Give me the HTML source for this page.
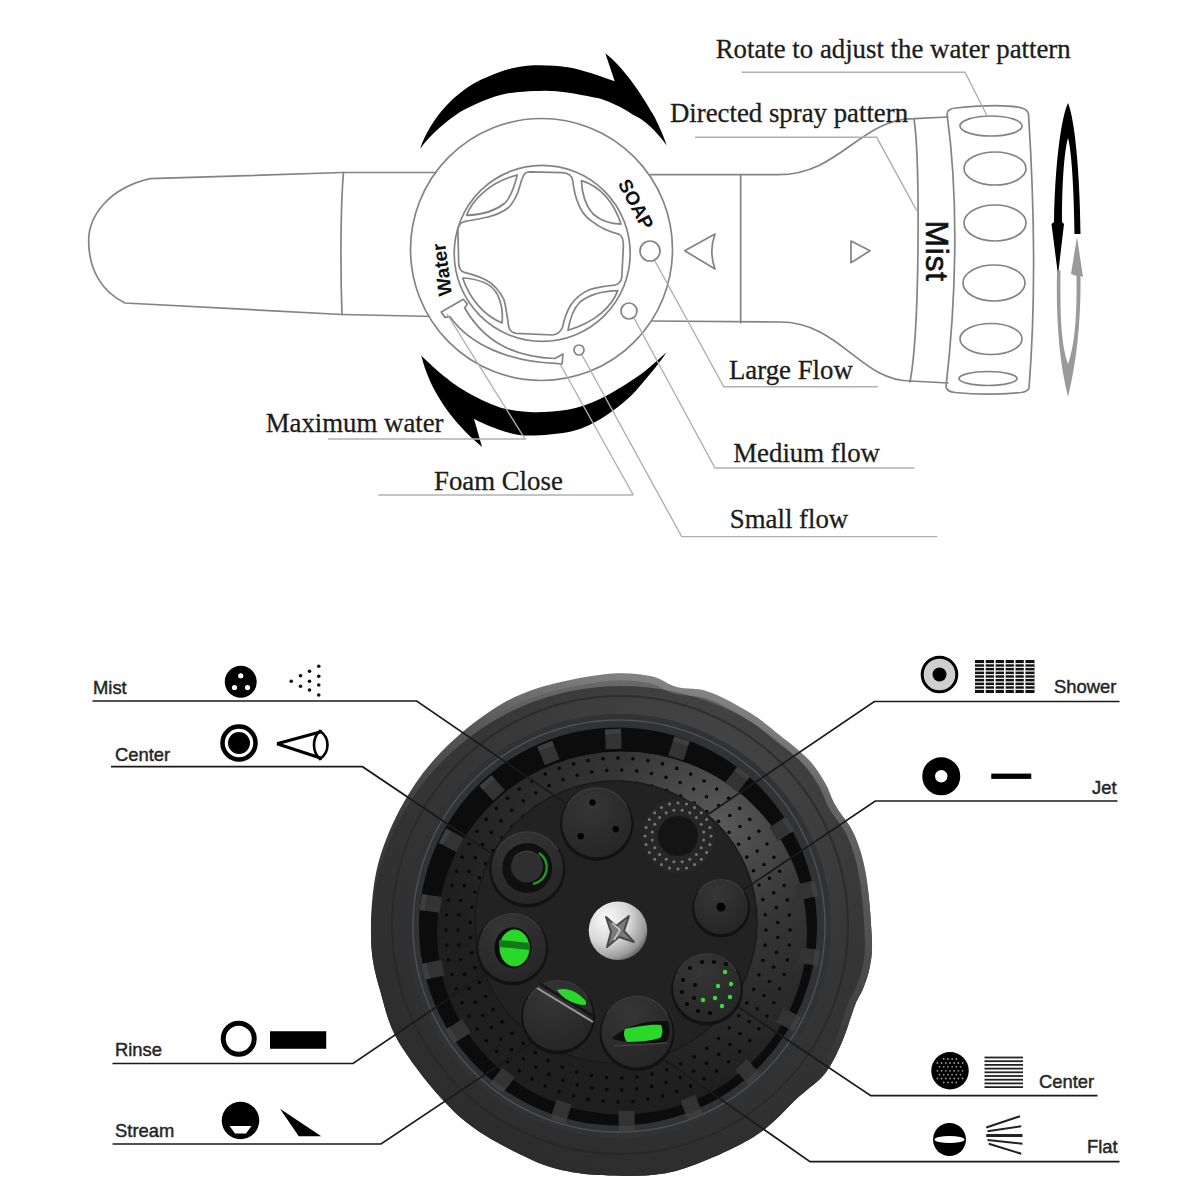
<!DOCTYPE html>
<html><head><meta charset="utf-8">
<style>
html,body{margin:0;padding:0;background:#fff;width:1200px;height:1200px;overflow:hidden}
svg{display:block}
</style></head><body>
<svg width="1200" height="1200" viewBox="0 0 1200 1200">
<rect width="1200" height="1200" fill="#fff"/>

<g fill="none" stroke="#838383" stroke-width="1.7" stroke-linejoin="round" stroke-linecap="round">
  <path d="M342.5,172.5 L150,178.7 C110,188 88,215 88.7,242 C89,270 102,292 125,303 L342,314.5"/>
  <path d="M343.5,172.5 C341,200 340,260 342,314.5"/>
  <path d="M342.5,172.5 L437,172.5"/>
  <path d="M342,314.5 L435,316.5"/>
  <path d="M650,174.7 L778,174.7 C840,174.7 860,118.7 914,118.7 L948,117"/>
  <path d="M650,321 L780,322 C840,322 860,381 911,381 L948,383"/>
  <path d="M740.7,174.7 L740.7,322.7"/>
  <path d="M914,118.7 C920,160 920,330 910,382"/>
  <path d="M684.7,250.7 L715,234 C711,245 711,258 715,269 Z"/>
  <path d="M851,241 L870,250.7 L851,262.7 Z"/>
  <circle cx="541.5" cy="249.5" r="131" fill="#fff"/>
  <circle cx="542.2" cy="253.4" r="88"/>
  <path d="M522.8,177.4 C524,173 526,172 530,171.9 L562,172.7 C568,173 572,176 572.7,180.6 C574,190 575,195 576.7,199.6 C580,210 586,218 592.5,221.7 C600,228 610,232 619.4,234.4 C622,236 623.4,240 623.4,245.5 L621.8,277.2 C621,282 618,284.5 614.7,285.1 C605,286 597,287 589.3,289.8 C580,294 574,300 570.3,305.7 C566,313 564,320 562.4,327.8 C560,332 557,334.5 552.9,335 L516.5,333.4 C512,333 509.5,330 508.6,326.2 C507,316 506,306 503.8,299.3 C499,290 493,284 486.4,280.3 C479,276 470,274 464.3,272.4 C460.5,271 458.8,267 458.7,262.9 L457.9,231.2 C458,226 461,222.5 464.3,221.7 C472,220 480,219 488,217 C496,215 503,212 508.6,207.5 C513,203 516,197 518.1,191.7 C520,186 521,181 522.8,177.4 Z"/>
  <path d="M466.6,215.4 C472,200 490,182 517.3,175 C514,188 510,198 505,203 C495,211 482,215 466.6,215.4 Z"/>
  <path d="M581.4,180.6 C600,186 614,202 621,224.1 C610,224 600,220 593,214 C586,206 582,195 581.4,180.6 Z"/>
  <path d="M617.8,290.6 C612,306 596,322 568,330.2 C570,318 574,308 580,302 C590,294 602,291 617.8,290.6 Z"/>
  <path d="M462.7,278 C480,279 492,284 497.5,294.6 C502,304 503,314 502.2,323 C485,316 470,300 462.7,278 Z"/>
  <path d="M463.3,299.3 L441.3,312 L444.7,317.3 L450,316.7 C470,345 510,362 555.3,363.3 L562,364 L563,354 L555,358.5 C515,357 485,343 464.7,308 L467.3,304 Z"/>
  <circle cx="650" cy="251" r="10"/>
  <circle cx="629" cy="311" r="8"/>
  <circle cx="579" cy="350" r="5"/>
  <path d="M947,114 C947,110 950,108.5 956,108 C985,105 1010,105 1022,108 C1026,109.5 1028,111 1028.5,114 C1034,200 1036,300 1029,388 C1028,391 1025,392 1021,392.5 C1000,394.5 975,394.5 955,392.5 C950,392 947,391 946,387 C956,300 959,200 947,114 Z"/>
  <ellipse cx="991" cy="126" rx="31" ry="10"/>
  <ellipse cx="995" cy="168.5" rx="31" ry="16.5"/>
  <ellipse cx="995" cy="223" rx="31" ry="18"/>
  <ellipse cx="994" cy="283" rx="31" ry="18"/>
  <ellipse cx="991" cy="339" rx="31" ry="15.5"/>
  <ellipse cx="988" cy="378.5" rx="29" ry="7"/>
</g>
<path fill="#000" d="M420,149 C430,120 455,90 486.7,77.3 C510,67 525,65 540,65.3 C560,65.5 575,68 582.7,70.7 C595,74 605,78 614.7,81.3 L605.3,53.3 C625,68 645,100 654.7,117.3 C660,128 664,137 666.7,145.3 C655,130 645,120 633,114.7 C615,103 600,98 593,97.3 C578,94 560,90.7 545,90.7 C530,91 515,92 508,93.3 C490,97 475,104 460,112 C445,122 430,135 420,149 Z"/>
<path fill="#000" d="M421.25,355.75 C430,390 450,420 482,446.9 L474,418.75 C485,425 495,428 500,430 C512,434 520,435.6 529,435.6 C545,435.5 555,434 567.5,432.25 C580,430 590,425 601,418.75 C615,410 625,402 635,391.75 C645,380 658,365 666.5,352.4 C655,362 645,372 635,378.25 C625,385 612,393 601,398.5 C590,404 578,408 567.5,409.75 C555,412 540,412.5 529,412 C518,411.5 508,409.5 500,407.5 C488,403 475,397 466.25,391.75 C455,385 450,381 443.75,376 C435,369 428,362 421.25,355.75 Z"/>
<g fill="none" stroke="#b0b0b0" stroke-width="1.4">
  <path d="M741.7,72.3 L965,72.3 L986.7,115"/>
  <path d="M695,137.3 L876.7,137.3 L916.7,210.7"/>
  <path d="M877.8,386.8 L723.8,386.8 L655,261"/>
  <path d="M914.5,468 L715,468 L634,318"/>
  <path d="M937.3,536.6 L681.7,536.6 L582,355"/>
  <path d="M633.3,495 L378.3,495"/>
  <path d="M633.3,495 L560,364"/>
  <path d="M328,439 L525,439 L447,314"/>
</g>
<g style="font-family:'Liberation Serif',serif;font-size:26.8px" fill="#1c1c1c" stroke="#1c1c1c" stroke-width="0.3">
  <text x="715.7" y="57.5">Rotate to adjust the water pattern</text>
  <text x="670.0" y="121.5">Directed spray pattern</text>
  <text x="729.0" y="378.5">Large Flow</text>
  <text x="733.3" y="461.5">Medium flow</text>
  <text x="729.8" y="528.3">Small flow</text>
  <text x="434.0" y="489.5">Foam Close</text>
  <text x="265.7" y="432.2">Maximum water</text>
</g>
<text transform="translate(452,295) rotate(-97.6)" style="font-family:'Liberation Sans',sans-serif;font-weight:bold;font-size:19.3px" fill="#111">Water</text>
<text transform="translate(617.5,183.5) rotate(62)" style="font-family:'Liberation Sans',sans-serif;font-weight:bold;font-size:19px" fill="#111">SOAP</text>
<text transform="translate(925.5,220.5) rotate(90)" style="font-family:'Liberation Sans',sans-serif;font-size:32px;letter-spacing:0.6px" fill="#111" stroke="#111" stroke-width="0.6">Mist</text>
<path fill="#000" d="M1068,103 C1061,118 1055,165 1054,222 L1051.5,224 L1058,275 L1064,224 L1062,222 C1062,180 1064.5,150 1068,138 C1071.5,150 1074,190 1074.5,234 L1080.5,234 C1080,175 1075,120 1068,103 Z"/>
<path fill="#9a9a9a" d="M1057,272 C1056,320 1059,360 1068,397 C1077,360 1081,320 1080.5,276 L1083,277 L1077,237 L1071,274 L1076.5,276 C1077,320 1074.5,345 1068,364 C1061.5,345 1060,320 1060.5,270 Z"/>

<defs>
<radialGradient id="gripg" cx="0.65" cy="0.2" r="0.9">
 <stop offset="0" stop-color="#474747"/><stop offset="0.5" stop-color="#363636"/><stop offset="1" stop-color="#2a2a2a"/>
</radialGradient>
<linearGradient id="edgeg" x1="0" y1="1" x2="1" y2="0">
 <stop offset="0" stop-color="#fff" stop-opacity="0"/><stop offset="0.55" stop-color="#fff" stop-opacity="0"/><stop offset="0.85" stop-color="#fff" stop-opacity="0.22"/><stop offset="1" stop-color="#fff" stop-opacity="0.3"/>
</linearGradient>
<radialGradient id="plateg" cx="0.75" cy="0.2" r="0.75">
 <stop offset="0" stop-color="#5a5a5a"/><stop offset="0.4" stop-color="#353535"/><stop offset="1" stop-color="#1e1e1e"/>
</radialGradient>
<radialGradient id="screwg" cx="0.3" cy="0.3" r="0.8">
 <stop offset="0" stop-color="#fafafa"/><stop offset="0.5" stop-color="#d8d8d8"/><stop offset="0.85" stop-color="#9a9a9a"/><stop offset="1" stop-color="#5a5a5a"/>
</radialGradient>
<radialGradient id="btng" cx="0.4" cy="0.25" r="0.85">
 <stop offset="0" stop-color="#363636"/><stop offset="1" stop-color="#242424"/>
</radialGradient>
<linearGradient id="lipg" x1="0" y1="0" x2="0" y2="1">
 <stop offset="0" stop-color="#6c6c6c"/><stop offset="0.12" stop-color="#555"/><stop offset="0.3" stop-color="#3a3a3a"/><stop offset="1" stop-color="#2e2e2e"/>
</linearGradient>
<clipPath id="gripclip"><path d="M376.5,870.7 C381.4,848.9 390.0,828.1 399.9,809.2 C409.9,790.3 421.7,773.3 436.0,757.4 C450.4,741.5 469.5,725.4 486.1,714.0 C502.6,702.6 515.3,695.6 535.1,689.0 C554.9,682.3 585.6,676.3 604.8,674.2 C624.0,672.1 638.4,674.0 650.3,676.1 C662.2,678.3 666.6,684.5 676.4,687.1 C686.2,689.7 696.8,687.6 709.1,691.9 C721.4,696.2 738.3,705.6 750.0,712.8 C761.7,719.9 769.7,727.2 779.4,734.9 C789.0,742.5 800.3,750.9 808.0,758.9 C815.6,766.9 820.5,775.2 825.1,782.9 C829.7,790.7 830.7,796.9 835.5,805.4 C840.3,813.9 848.9,822.3 854.0,833.9 C859.1,845.4 863.1,857.3 866.0,874.8 C869.0,892.3 871.3,923.6 871.9,939.0 C872.5,954.4 871.3,958.7 869.8,967.0 C868.3,975.3 865.5,982.4 863.0,988.8 C860.6,995.2 858.4,996.5 854.9,1005.4 C851.4,1014.3 846.9,1030.9 841.9,1042.2 C836.9,1053.5 832.1,1064.3 825.0,1073.4 C817.8,1082.5 808.6,1087.6 798.8,1096.8 C788.9,1105.9 776.8,1119.7 765.9,1128.2 C755.0,1136.7 745.2,1141.9 733.2,1148.0 C721.2,1154.1 705.8,1160.6 693.9,1164.9 C682.0,1169.2 673.1,1172.0 661.8,1173.8 C650.5,1175.6 639.8,1176.0 625.9,1175.9 C611.9,1175.7 594.2,1175.9 578.2,1173.1 C562.2,1170.2 549.5,1168.2 529.9,1158.9 C510.2,1149.5 481.7,1136.0 460.2,1117.2 C438.8,1098.4 414.6,1067.3 401.2,1046.1 C387.9,1024.9 385.1,1007.9 380.0,990.1 C375.0,972.4 371.7,959.8 371.1,939.9 C370.5,920.0 371.7,892.5 376.5,870.7 Z"/></clipPath>
</defs>
<path d="M376.5,870.7 C381.4,848.9 390.0,828.1 399.9,809.2 C409.9,790.3 421.7,773.3 436.0,757.4 C450.4,741.5 469.5,725.4 486.1,714.0 C502.6,702.6 515.3,695.6 535.1,689.0 C554.9,682.3 585.6,676.3 604.8,674.2 C624.0,672.1 638.4,674.0 650.3,676.1 C662.2,678.3 666.6,684.5 676.4,687.1 C686.2,689.7 696.8,687.6 709.1,691.9 C721.4,696.2 738.3,705.6 750.0,712.8 C761.7,719.9 769.7,727.2 779.4,734.9 C789.0,742.5 800.3,750.9 808.0,758.9 C815.6,766.9 820.5,775.2 825.1,782.9 C829.7,790.7 830.7,796.9 835.5,805.4 C840.3,813.9 848.9,822.3 854.0,833.9 C859.1,845.4 863.1,857.3 866.0,874.8 C869.0,892.3 871.3,923.6 871.9,939.0 C872.5,954.4 871.3,958.7 869.8,967.0 C868.3,975.3 865.5,982.4 863.0,988.8 C860.6,995.2 858.4,996.5 854.9,1005.4 C851.4,1014.3 846.9,1030.9 841.9,1042.2 C836.9,1053.5 832.1,1064.3 825.0,1073.4 C817.8,1082.5 808.6,1087.6 798.8,1096.8 C788.9,1105.9 776.8,1119.7 765.9,1128.2 C755.0,1136.7 745.2,1141.9 733.2,1148.0 C721.2,1154.1 705.8,1160.6 693.9,1164.9 C682.0,1169.2 673.1,1172.0 661.8,1173.8 C650.5,1175.6 639.8,1176.0 625.9,1175.9 C611.9,1175.7 594.2,1175.9 578.2,1173.1 C562.2,1170.2 549.5,1168.2 529.9,1158.9 C510.2,1149.5 481.7,1136.0 460.2,1117.2 C438.8,1098.4 414.6,1067.3 401.2,1046.1 C387.9,1024.9 385.1,1007.9 380.0,990.1 C375.0,972.4 371.7,959.8 371.1,939.9 C370.5,920.0 371.7,892.5 376.5,870.7 Z" fill="url(#lipg)"/>
<g clip-path="url(#gripclip)"><ellipse cx="621.5" cy="937" rx="251" ry="251" fill="url(#gripg)"/></g>
<path d="M376.5,870.7 C381.4,848.9 390.0,828.1 399.9,809.2 C409.9,790.3 421.7,773.3 436.0,757.4 C450.4,741.5 469.5,725.4 486.1,714.0 C502.6,702.6 515.3,695.6 535.1,689.0 C554.9,682.3 585.6,676.3 604.8,674.2 C624.0,672.1 638.4,674.0 650.3,676.1 C662.2,678.3 666.6,684.5 676.4,687.1 C686.2,689.7 696.8,687.6 709.1,691.9 C721.4,696.2 738.3,705.6 750.0,712.8 C761.7,719.9 769.7,727.2 779.4,734.9 C789.0,742.5 800.3,750.9 808.0,758.9 C815.6,766.9 820.5,775.2 825.1,782.9 C829.7,790.7 830.7,796.9 835.5,805.4 C840.3,813.9 848.9,822.3 854.0,833.9 C859.1,845.4 863.1,857.3 866.0,874.8 C869.0,892.3 871.3,923.6 871.9,939.0 C872.5,954.4 871.3,958.7 869.8,967.0 C868.3,975.3 865.5,982.4 863.0,988.8 C860.6,995.2 858.4,996.5 854.9,1005.4 C851.4,1014.3 846.9,1030.9 841.9,1042.2 C836.9,1053.5 832.1,1064.3 825.0,1073.4 C817.8,1082.5 808.6,1087.6 798.8,1096.8 C788.9,1105.9 776.8,1119.7 765.9,1128.2 C755.0,1136.7 745.2,1141.9 733.2,1148.0 C721.2,1154.1 705.8,1160.6 693.9,1164.9 C682.0,1169.2 673.1,1172.0 661.8,1173.8 C650.5,1175.6 639.8,1176.0 625.9,1175.9 C611.9,1175.7 594.2,1175.9 578.2,1173.1 C562.2,1170.2 549.5,1168.2 529.9,1158.9 C510.2,1149.5 481.7,1136.0 460.2,1117.2 C438.8,1098.4 414.6,1067.3 401.2,1046.1 C387.9,1024.9 385.1,1007.9 380.0,990.1 C375.0,972.4 371.7,959.8 371.1,939.9 C370.5,920.0 371.7,892.5 376.5,870.7 Z" fill="none" stroke="url(#edgeg)" stroke-width="14" clip-path="url(#gripclip)"/>
<ellipse cx="620" cy="925" rx="228" ry="229" fill="none" stroke="#262626" stroke-width="2" opacity="0.7"/>
<ellipse cx="619" cy="926" rx="212" ry="212" fill="#313234"/>
<ellipse cx="619" cy="926" rx="206" ry="206" fill="none" stroke="#505154" stroke-width="1.4"/>
<ellipse cx="618" cy="926.5" rx="199" ry="199" fill="#0c0c0c"/>
<ellipse cx="622" cy="933" rx="185" ry="181.5" fill="url(#plateg)"/>
<g transform="translate(613.3,738.1) rotate(-2.0)"><rect x="-8" y="-9" width="16" height="20" fill="#333"/><rect x="-8" y="-9" width="16" height="5" fill="#3e3e3e"/></g>
<g transform="translate(679.3,747.4) rotate(18.0)"><rect x="-8" y="-9" width="16" height="20" fill="#333"/><rect x="-8" y="-9" width="16" height="5" fill="#3e3e3e"/></g>
<g transform="translate(738.2,778.7) rotate(38.0)"><rect x="-8" y="-9" width="16" height="20" fill="#333"/><rect x="-8" y="-9" width="16" height="5" fill="#3e3e3e"/></g>
<g transform="translate(782.8,828.3) rotate(58.0)"><rect x="-8" y="-9" width="16" height="20" fill="#333"/><rect x="-8" y="-9" width="16" height="5" fill="#3e3e3e"/></g>
<g transform="translate(807.8,890.1) rotate(78.0)"><rect x="-8" y="-9" width="16" height="20" fill="#333"/><rect x="-8" y="-9" width="16" height="5" fill="#3e3e3e"/></g>
<g transform="translate(810.1,956.7) rotate(98.0)"><rect x="-8" y="-9" width="16" height="20" fill="#333"/><rect x="-8" y="-9" width="16" height="5" fill="#3e3e3e"/></g>
<g transform="translate(789.5,1020.1) rotate(118.0)"><rect x="-8" y="-9" width="16" height="20" fill="#333"/><rect x="-8" y="-9" width="16" height="5" fill="#3e3e3e"/></g>
<g transform="translate(748.5,1072.7) rotate(138.0)"><rect x="-8" y="-9" width="16" height="20" fill="#333"/><rect x="-8" y="-9" width="16" height="5" fill="#3e3e3e"/></g>
<g transform="translate(691.9,1108.0) rotate(158.0)"><rect x="-8" y="-9" width="16" height="20" fill="#333"/><rect x="-8" y="-9" width="16" height="5" fill="#3e3e3e"/></g>
<g transform="translate(626.7,1121.9) rotate(178.0)"><rect x="-8" y="-9" width="16" height="20" fill="#333"/><rect x="-8" y="-9" width="16" height="5" fill="#3e3e3e"/></g>
<g transform="translate(560.7,1112.6) rotate(198.0)"><rect x="-8" y="-9" width="16" height="20" fill="#333"/><rect x="-8" y="-9" width="16" height="5" fill="#3e3e3e"/></g>
<g transform="translate(501.8,1081.3) rotate(218.0)"><rect x="-8" y="-9" width="16" height="20" fill="#333"/><rect x="-8" y="-9" width="16" height="5" fill="#3e3e3e"/></g>
<g transform="translate(457.2,1031.7) rotate(238.0)"><rect x="-8" y="-9" width="16" height="20" fill="#333"/><rect x="-8" y="-9" width="16" height="5" fill="#3e3e3e"/></g>
<g transform="translate(432.2,969.9) rotate(258.0)"><rect x="-8" y="-9" width="16" height="20" fill="#333"/><rect x="-8" y="-9" width="16" height="5" fill="#3e3e3e"/></g>
<g transform="translate(429.9,903.3) rotate(278.0)"><rect x="-8" y="-9" width="16" height="20" fill="#333"/><rect x="-8" y="-9" width="16" height="5" fill="#3e3e3e"/></g>
<g transform="translate(450.5,839.9) rotate(298.0)"><rect x="-8" y="-9" width="16" height="20" fill="#333"/><rect x="-8" y="-9" width="16" height="5" fill="#3e3e3e"/></g>
<g transform="translate(491.5,787.3) rotate(318.0)"><rect x="-8" y="-9" width="16" height="20" fill="#333"/><rect x="-8" y="-9" width="16" height="5" fill="#3e3e3e"/></g>
<g transform="translate(548.1,752.0) rotate(338.0)"><rect x="-8" y="-9" width="16" height="20" fill="#333"/><rect x="-8" y="-9" width="16" height="5" fill="#3e3e3e"/></g>
<g fill="#080808"><circle cx="766.0" cy="930.0" r="1.8"/><circle cx="765.2" cy="945.2" r="1.8"/><circle cx="762.9" cy="960.3" r="1.8"/><circle cx="759.0" cy="975.0" r="1.8"/><circle cx="753.6" cy="989.3" r="1.8"/><circle cx="746.8" cy="1002.9" r="1.8"/><circle cx="738.6" cy="1015.8" r="1.8"/><circle cx="729.2" cy="1027.7" r="1.8"/><circle cx="718.5" cy="1038.6" r="1.8"/><circle cx="706.8" cy="1048.4" r="1.8"/><circle cx="694.2" cy="1056.9" r="1.8"/><circle cx="680.7" cy="1064.0" r="1.8"/><circle cx="666.6" cy="1069.8" r="1.8"/><circle cx="652.0" cy="1074.0" r="1.8"/><circle cx="637.0" cy="1076.8" r="1.8"/><circle cx="621.8" cy="1078.0" r="1.8"/><circle cx="606.6" cy="1077.6" r="1.8"/><circle cx="591.5" cy="1075.6" r="1.8"/><circle cx="576.6" cy="1072.1" r="1.8"/><circle cx="562.2" cy="1067.1" r="1.8"/><circle cx="548.4" cy="1060.6" r="1.8"/><circle cx="535.4" cy="1052.8" r="1.8"/><circle cx="523.2" cy="1043.6" r="1.8"/><circle cx="512.0" cy="1033.3" r="1.8"/><circle cx="502.0" cy="1021.9" r="1.8"/><circle cx="493.1" cy="1009.4" r="1.8"/><circle cx="485.6" cy="996.2" r="1.8"/><circle cx="479.5" cy="982.2" r="1.8"/><circle cx="474.9" cy="967.7" r="1.8"/><circle cx="471.8" cy="952.8" r="1.8"/><circle cx="470.2" cy="937.6" r="1.8"/><circle cx="470.2" cy="922.4" r="1.8"/><circle cx="471.8" cy="907.2" r="1.8"/><circle cx="474.9" cy="892.3" r="1.8"/><circle cx="479.5" cy="877.8" r="1.8"/><circle cx="485.6" cy="863.8" r="1.8"/><circle cx="493.1" cy="850.6" r="1.8"/><circle cx="502.0" cy="838.1" r="1.8"/><circle cx="512.0" cy="826.7" r="1.8"/><circle cx="523.2" cy="816.4" r="1.8"/><circle cx="535.4" cy="807.2" r="1.8"/><circle cx="548.4" cy="799.4" r="1.8"/><circle cx="562.2" cy="792.9" r="1.8"/><circle cx="576.6" cy="787.9" r="1.8"/><circle cx="591.5" cy="784.4" r="1.8"/><circle cx="606.6" cy="782.4" r="1.8"/><circle cx="621.8" cy="782.0" r="1.8"/><circle cx="637.0" cy="783.2" r="1.8"/><circle cx="652.0" cy="786.0" r="1.8"/><circle cx="666.6" cy="790.2" r="1.8"/><circle cx="680.7" cy="796.0" r="1.8"/><circle cx="694.2" cy="803.1" r="1.8"/><circle cx="706.8" cy="811.6" r="1.8"/><circle cx="718.5" cy="821.4" r="1.8"/><circle cx="729.2" cy="832.3" r="1.8"/><circle cx="738.6" cy="844.2" r="1.8"/><circle cx="746.8" cy="857.1" r="1.8"/><circle cx="753.6" cy="870.7" r="1.8"/><circle cx="759.0" cy="885.0" r="1.8"/><circle cx="762.9" cy="899.7" r="1.8"/><circle cx="765.2" cy="914.8" r="1.8"/><circle cx="777.8" cy="937.5" r="1.8"/><circle cx="776.4" cy="952.4" r="1.8"/><circle cx="773.6" cy="967.2" r="1.8"/><circle cx="769.5" cy="981.6" r="1.8"/><circle cx="764.0" cy="995.5" r="1.8"/><circle cx="757.2" cy="1008.9" r="1.8"/><circle cx="749.2" cy="1021.6" r="1.8"/><circle cx="740.0" cy="1033.5" r="1.8"/><circle cx="729.8" cy="1044.5" r="1.8"/><circle cx="718.6" cy="1054.4" r="1.8"/><circle cx="706.5" cy="1063.3" r="1.8"/><circle cx="693.6" cy="1071.0" r="1.8"/><circle cx="680.1" cy="1077.5" r="1.8"/><circle cx="666.0" cy="1082.6" r="1.8"/><circle cx="651.5" cy="1086.5" r="1.8"/><circle cx="636.7" cy="1088.9" r="1.8"/><circle cx="621.8" cy="1090.0" r="1.8"/><circle cx="606.8" cy="1089.6" r="1.8"/><circle cx="591.9" cy="1087.9" r="1.8"/><circle cx="577.2" cy="1084.7" r="1.8"/><circle cx="562.9" cy="1080.2" r="1.8"/><circle cx="549.1" cy="1074.4" r="1.8"/><circle cx="535.8" cy="1067.3" r="1.8"/><circle cx="523.3" cy="1059.0" r="1.8"/><circle cx="511.7" cy="1049.6" r="1.8"/><circle cx="501.0" cy="1039.1" r="1.8"/><circle cx="491.3" cy="1027.6" r="1.8"/><circle cx="482.7" cy="1015.4" r="1.8"/><circle cx="475.3" cy="1002.3" r="1.8"/><circle cx="469.1" cy="988.6" r="1.8"/><circle cx="464.3" cy="974.4" r="1.8"/><circle cx="460.8" cy="959.8" r="1.8"/><circle cx="458.7" cy="945.0" r="1.8"/><circle cx="458.0" cy="930.0" r="1.8"/><circle cx="458.7" cy="915.0" r="1.8"/><circle cx="460.8" cy="900.2" r="1.8"/><circle cx="464.3" cy="885.6" r="1.8"/><circle cx="469.1" cy="871.4" r="1.8"/><circle cx="475.3" cy="857.7" r="1.8"/><circle cx="482.7" cy="844.6" r="1.8"/><circle cx="491.3" cy="832.4" r="1.8"/><circle cx="501.0" cy="820.9" r="1.8"/><circle cx="511.7" cy="810.4" r="1.8"/><circle cx="523.3" cy="801.0" r="1.8"/><circle cx="535.8" cy="792.7" r="1.8"/><circle cx="549.1" cy="785.6" r="1.8"/><circle cx="562.9" cy="779.8" r="1.8"/><circle cx="577.2" cy="775.3" r="1.8"/><circle cx="591.9" cy="772.1" r="1.8"/><circle cx="606.8" cy="770.4" r="1.8"/><circle cx="621.8" cy="770.0" r="1.8"/><circle cx="636.7" cy="771.1" r="1.8"/><circle cx="651.5" cy="773.5" r="1.8"/><circle cx="666.0" cy="777.4" r="1.8"/><circle cx="680.1" cy="782.5" r="1.8"/><circle cx="693.6" cy="789.0" r="1.8"/><circle cx="706.5" cy="796.7" r="1.8"/><circle cx="718.6" cy="805.6" r="1.8"/><circle cx="729.8" cy="815.5" r="1.8"/><circle cx="740.0" cy="826.5" r="1.8"/><circle cx="749.2" cy="838.4" r="1.8"/><circle cx="757.2" cy="851.1" r="1.8"/><circle cx="764.0" cy="864.5" r="1.8"/><circle cx="769.5" cy="878.4" r="1.8"/><circle cx="773.6" cy="892.8" r="1.8"/><circle cx="776.4" cy="907.6" r="1.8"/><circle cx="777.8" cy="922.5" r="1.8"/><circle cx="790.0" cy="930.0" r="1.8"/><circle cx="789.3" cy="945.0" r="1.8"/><circle cx="787.4" cy="959.9" r="1.8"/><circle cx="784.1" cy="974.5" r="1.8"/><circle cx="779.6" cy="988.8" r="1.8"/><circle cx="773.9" cy="1002.7" r="1.8"/><circle cx="767.0" cy="1016.0" r="1.8"/><circle cx="758.9" cy="1028.7" r="1.8"/><circle cx="749.8" cy="1040.6" r="1.8"/><circle cx="739.6" cy="1051.6" r="1.8"/><circle cx="728.6" cy="1061.8" r="1.8"/><circle cx="716.7" cy="1070.9" r="1.8"/><circle cx="704.0" cy="1079.0" r="1.8"/><circle cx="690.7" cy="1085.9" r="1.8"/><circle cx="676.8" cy="1091.6" r="1.8"/><circle cx="662.5" cy="1096.1" r="1.8"/><circle cx="647.9" cy="1099.4" r="1.8"/><circle cx="633.0" cy="1101.3" r="1.8"/><circle cx="618.0" cy="1102.0" r="1.8"/><circle cx="603.0" cy="1101.3" r="1.8"/><circle cx="588.1" cy="1099.4" r="1.8"/><circle cx="573.5" cy="1096.1" r="1.8"/><circle cx="559.2" cy="1091.6" r="1.8"/><circle cx="545.3" cy="1085.9" r="1.8"/><circle cx="532.0" cy="1079.0" r="1.8"/><circle cx="519.3" cy="1070.9" r="1.8"/><circle cx="507.4" cy="1061.8" r="1.8"/><circle cx="496.4" cy="1051.6" r="1.8"/><circle cx="486.2" cy="1040.6" r="1.8"/><circle cx="477.1" cy="1028.7" r="1.8"/><circle cx="469.0" cy="1016.0" r="1.8"/><circle cx="462.1" cy="1002.7" r="1.8"/><circle cx="456.4" cy="988.8" r="1.8"/><circle cx="451.9" cy="974.5" r="1.8"/><circle cx="448.6" cy="959.9" r="1.8"/><circle cx="446.7" cy="945.0" r="1.8"/><circle cx="446.0" cy="930.0" r="1.8"/><circle cx="446.7" cy="915.0" r="1.8"/><circle cx="448.6" cy="900.1" r="1.8"/><circle cx="451.9" cy="885.5" r="1.8"/><circle cx="456.4" cy="871.2" r="1.8"/><circle cx="462.1" cy="857.3" r="1.8"/><circle cx="469.0" cy="844.0" r="1.8"/><circle cx="477.1" cy="831.3" r="1.8"/><circle cx="486.2" cy="819.4" r="1.8"/><circle cx="496.4" cy="808.4" r="1.8"/><circle cx="507.4" cy="798.2" r="1.8"/><circle cx="519.3" cy="789.1" r="1.8"/><circle cx="532.0" cy="781.0" r="1.8"/><circle cx="545.3" cy="774.1" r="1.8"/><circle cx="559.2" cy="768.4" r="1.8"/><circle cx="573.5" cy="763.9" r="1.8"/><circle cx="588.1" cy="760.6" r="1.8"/><circle cx="603.0" cy="758.7" r="1.8"/><circle cx="618.0" cy="758.0" r="1.8"/><circle cx="633.0" cy="758.7" r="1.8"/><circle cx="647.9" cy="760.6" r="1.8"/><circle cx="662.5" cy="763.9" r="1.8"/><circle cx="676.8" cy="768.4" r="1.8"/><circle cx="690.7" cy="774.1" r="1.8"/><circle cx="704.0" cy="781.0" r="1.8"/><circle cx="716.7" cy="789.1" r="1.8"/><circle cx="728.6" cy="798.2" r="1.8"/><circle cx="739.6" cy="808.4" r="1.8"/><circle cx="749.8" cy="819.4" r="1.8"/><circle cx="758.9" cy="831.3" r="1.8"/><circle cx="767.0" cy="844.0" r="1.8"/><circle cx="773.9" cy="857.3" r="1.8"/><circle cx="779.6" cy="871.2" r="1.8"/><circle cx="784.1" cy="885.5" r="1.8"/><circle cx="787.4" cy="900.1" r="1.8"/><circle cx="789.3" cy="915.0" r="1.8"/></g>
<circle cx="616" cy="922" r="141" fill="#222"/>
<circle cx="616" cy="922" r="141" fill="none" stroke="#1a1a1a" stroke-width="1.5"/>
<circle cx="596.7" cy="824.2" r="36.7" fill="#121212"/>
<circle cx="596.7" cy="822.7" r="34.7" fill="url(#btng)"/>
<path d="M567.2,805.4 A33.7,33.7 0 0,1 626.2,805.4" fill="none" stroke="#3c3c3c" stroke-width="1.3"/>
<circle cx="592.5" cy="802.5" r="3.2" fill="#050505"/>
<circle cx="580.8" cy="836.3" r="3.2" fill="#050505"/>
<circle cx="615.8" cy="829.2" r="3.2" fill="#050505"/>
<circle cx="678" cy="836" r="37" fill="#262626"/>
<g fill="#777"><circle cx="711.0" cy="836.0" r="1.5"/><circle cx="709.9" cy="844.5" r="1.5"/><circle cx="706.6" cy="852.5" r="1.5"/><circle cx="701.3" cy="859.3" r="1.5"/><circle cx="694.5" cy="864.6" r="1.5"/><circle cx="686.5" cy="867.9" r="1.5"/><circle cx="678.0" cy="869.0" r="1.5"/><circle cx="669.5" cy="867.9" r="1.5"/><circle cx="661.5" cy="864.6" r="1.5"/><circle cx="654.7" cy="859.3" r="1.5"/><circle cx="649.4" cy="852.5" r="1.5"/><circle cx="646.1" cy="844.5" r="1.5"/><circle cx="645.0" cy="836.0" r="1.5"/><circle cx="646.1" cy="827.5" r="1.5"/><circle cx="649.4" cy="819.5" r="1.5"/><circle cx="654.7" cy="812.7" r="1.5"/><circle cx="661.5" cy="807.4" r="1.5"/><circle cx="669.5" cy="804.1" r="1.5"/><circle cx="678.0" cy="803.0" r="1.5"/><circle cx="686.5" cy="804.1" r="1.5"/><circle cx="694.5" cy="807.4" r="1.5"/><circle cx="701.3" cy="812.7" r="1.5"/><circle cx="706.6" cy="819.5" r="1.5"/><circle cx="709.9" cy="827.5" r="1.5"/><circle cx="703.7" cy="840.1" r="1.5"/><circle cx="701.2" cy="847.8" r="1.5"/><circle cx="696.4" cy="854.4" r="1.5"/><circle cx="689.8" cy="859.2" r="1.5"/><circle cx="682.1" cy="861.7" r="1.5"/><circle cx="673.9" cy="861.7" r="1.5"/><circle cx="666.2" cy="859.2" r="1.5"/><circle cx="659.6" cy="854.4" r="1.5"/><circle cx="654.8" cy="847.8" r="1.5"/><circle cx="652.3" cy="840.1" r="1.5"/><circle cx="652.3" cy="831.9" r="1.5"/><circle cx="654.8" cy="824.2" r="1.5"/><circle cx="659.6" cy="817.6" r="1.5"/><circle cx="666.2" cy="812.8" r="1.5"/><circle cx="673.9" cy="810.3" r="1.5"/><circle cx="682.1" cy="810.3" r="1.5"/><circle cx="689.8" cy="812.8" r="1.5"/><circle cx="696.4" cy="817.6" r="1.5"/><circle cx="701.2" cy="824.2" r="1.5"/><circle cx="703.7" cy="831.9" r="1.5"/></g>
<circle cx="678" cy="836" r="20" fill="#141414"/>
<circle cx="527.3" cy="869.5" r="38" fill="#121212"/>
<circle cx="527.3" cy="868" r="36" fill="url(#btng)"/>
<path d="M496.7,850.0 A35,35 0 0,1 557.9,850.0" fill="none" stroke="#3c3c3c" stroke-width="1.3"/>
<circle cx="527.3" cy="868" r="25" fill="#101010"/>
<path d="M539,853 A17,17 0 0,1 533,884" fill="none" stroke="#1c9a2a" stroke-width="2.5"/>
<circle cx="527" cy="866.5" r="16" fill="#2f2f2f"/>
<path d="M514,858 A16,16 0 0,1 540,858" fill="none" stroke="#3c3c3c" stroke-width="1.3"/>
<circle cx="721" cy="908.5" r="29" fill="#121212"/>
<circle cx="721" cy="907" r="27" fill="url(#btng)"/>
<path d="M698.0,893.5 A26,26 0 0,1 744.0,893.5" fill="none" stroke="#3c3c3c" stroke-width="1.3"/>
<circle cx="721" cy="907" r="4.5" fill="#050505"/>
<circle cx="618" cy="930.7" r="29.3" fill="url(#screwg)"/>
<path d="M606,917 L616,926 L629,916 L624,931 L634,942 L619,937 L607,947 L611,932 Z" fill="#7a7a7a" stroke="#4a4a4a" stroke-width="2" stroke-linejoin="round"/>
<path d="M612,923 L620,930 L614,940" fill="none" stroke="#cfcfcf" stroke-width="1.5"/>
<circle cx="512.2" cy="949.3" r="36" fill="#121212"/>
<circle cx="512.2" cy="947.8" r="34" fill="url(#btng)"/>
<path d="M483.3,930.8 A33,33 0 0,1 541.1,930.8" fill="none" stroke="#3c3c3c" stroke-width="1.3"/>
<ellipse cx="513" cy="947.8" rx="18.5" ry="20.5" fill="#0c0c0c"/>
<ellipse cx="514.5" cy="948" rx="15" ry="18.5" fill="#2ad82a"/>
<path d="M499,940 L530,943 L530,950 L499,947 Z" fill="#127a18"/>
<circle cx="707" cy="989.5" r="36" fill="#121212"/>
<circle cx="707" cy="988" r="34" fill="url(#btng)"/>
<path d="M678.1,971.0 A33,33 0 0,1 735.9,971.0" fill="none" stroke="#3c3c3c" stroke-width="1.3"/>
<circle cx="690" cy="968" r="2" fill="#050505"/>
<circle cx="702" cy="962" r="2" fill="#050505"/>
<circle cx="714" cy="962" r="2" fill="#050505"/>
<circle cx="683" cy="980" r="2" fill="#050505"/>
<circle cx="682" cy="992" r="2" fill="#050505"/>
<circle cx="687" cy="1004" r="2" fill="#050505"/>
<circle cx="698" cy="1011" r="2" fill="#050505"/>
<circle cx="710" cy="1013" r="2" fill="#050505"/>
<circle cx="726" cy="964" r="2" fill="#050505"/>
<circle cx="695" cy="985" r="2" fill="#050505"/>
<circle cx="694" cy="998" r="2" fill="#050505"/>
<circle cx="718" cy="986" r="2.2" fill="#33dd3a"/>
<circle cx="731" cy="984" r="2.2" fill="#33dd3a"/>
<circle cx="703" cy="1000" r="2.2" fill="#33dd3a"/>
<circle cx="715" cy="998" r="2.2" fill="#33dd3a"/>
<circle cx="730" cy="997" r="2.2" fill="#33dd3a"/>
<circle cx="722" cy="1006" r="2.2" fill="#33dd3a"/>
<circle cx="725" cy="972" r="2.2" fill="#33dd3a"/>
<circle cx="558" cy="1017.2" r="37" fill="#121212"/>
<circle cx="558" cy="1015.7" r="35" fill="url(#btng)"/>
<path d="M528.2,998.2 A34,34 0 0,1 587.8,998.2" fill="none" stroke="#3c3c3c" stroke-width="1.3"/>
<path d="M537,988 L593,1022" stroke="#9a9a9a" stroke-width="2"/>
<path d="M540,984 L596,1018" stroke="#151515" stroke-width="3"/>
<path d="M557,990 C565,987 576,990 585,1000 C587,1003 586,1005 584,1005 C573,1004 563,999 557,990 Z" fill="#2ad82a"/>
<circle cx="637" cy="1033.5" r="37.5" fill="#121212"/>
<circle cx="637" cy="1032" r="35.5" fill="url(#btng)"/>
<path d="M606.8,1014.2 A34.5,34.5 0 0,1 667.2,1014.2" fill="none" stroke="#3c3c3c" stroke-width="1.3"/>
<path d="M612,1038 C625,1026 645,1020 668,1021 C670,1028 670,1036 667,1041 C648,1045 628,1045 612,1038 Z" fill="#0e0e0e"/>
<path d="M625,1029 C640,1026 652,1024 661,1025 C663,1029 663,1035 660,1038 C650,1041 638,1042 627,1042 C624,1038 623,1033 625,1029 Z" fill="#2ad82a"/>
<path d="M614,1046 L667,1043" stroke="#4a4a4a" stroke-width="1.2"/>

<g fill="none" stroke="#1a1a1a" stroke-width="1.7">
  <path d="M92.5,701 L416.7,701 L566.7,804"/>
  <path d="M111,766.7 L362.5,766.7 L493.75,855"/>
  <path d="M112.5,1063.5 L353,1063.5 L484,974.7"/>
  <path d="M112.5,1144 L381,1144 L530.7,1044"/>
  <path d="M1119.5,701.5 L874.3,701.5 L707.5,814.75"/>
  <path d="M1117.5,801 L875.25,801 L743.25,890"/>
  <path d="M1097.5,1095.7 L870.75,1095.7 L738.6,1007.2"/>
  <path d="M1119.5,1161.7 L810,1161.7 L665,1060.3"/>
</g>
<g style="font-family:'Liberation Sans',sans-serif;font-size:18.4px" fill="#262626" stroke="#262626" stroke-width="0.45">
  <text x="93" y="693.5">Mist</text>
  <text x="115" y="760.5">Center</text>
  <text x="115" y="1056.0">Rinse</text>
  <text x="115" y="1137.0">Stream</text>
  <text x="1054" y="693.0">Shower</text>
  <text x="1092" y="793.5">Jet</text>
  <text x="1039" y="1088.0">Center</text>
  <text x="1087" y="1153.0">Flat</text>
</g>

<circle cx="240.75" cy="681.75" r="16" fill="#000"/>
<circle cx="240.75" cy="675.75" r="2.6" fill="#fff"/>
<circle cx="234.5" cy="687.5" r="2.6" fill="#fff"/>
<circle cx="247.5" cy="687.5" r="2.6" fill="#fff"/>
<circle cx="291.25" cy="681.25" r="1.8" fill="#111"/>
<circle cx="300.5" cy="675.75" r="1.8" fill="#111"/>
<circle cx="300.5" cy="686.25" r="1.8" fill="#111"/>
<circle cx="309.5" cy="671.25" r="1.8" fill="#111"/>
<circle cx="309.5" cy="681.25" r="1.8" fill="#111"/>
<circle cx="309.5" cy="690" r="1.8" fill="#111"/>
<circle cx="318.75" cy="666.25" r="1.8" fill="#111"/>
<circle cx="318.75" cy="676.25" r="1.8" fill="#111"/>
<circle cx="318.75" cy="685" r="1.8" fill="#111"/>
<circle cx="318.75" cy="695" r="1.8" fill="#111"/>
<circle cx="239" cy="743" r="16.5" fill="none" stroke="#000" stroke-width="4.5"/>
<circle cx="239" cy="743" r="11" fill="#000"/>
<path d="M277,743.75 L322,731.5 M277,743.75 L322,758.5" stroke="#000" stroke-width="3" fill="none"/>
<path d="M320,731 C312,738 312,752 320,759 C330,752 330,738 320,731 Z" fill="none" stroke="#000" stroke-width="2.6"/>
<circle cx="238.75" cy="1038.75" r="15.5" fill="none" stroke="#000" stroke-width="5"/>
<rect x="270" y="1031.25" width="56.25" height="17.5" fill="#000"/>
<circle cx="240.5" cy="1120.5" r="18.75" fill="#000"/>
<path d="M229.5,1126 L251.5,1126 L246,1133.5 L235,1133.5 Z" fill="#fff"/>
<path d="M280,1108.75 L321.25,1136.25 L298.75,1136.25 Z" fill="#000"/>
<circle cx="939.5" cy="674.5" r="17.3" fill="#cfcfcf" stroke="#000" stroke-width="3"/>
<circle cx="939.5" cy="674.5" r="7" fill="#000"/>
<rect x="975" y="660" width="59.5" height="33" fill="#111"/>
<rect x="984.1" y="660" width="1.6" height="33" fill="#fff"/>
<rect x="994.0" y="660" width="1.6" height="33" fill="#fff"/>
<rect x="1004.0" y="660" width="1.6" height="33" fill="#fff"/>
<rect x="1013.9" y="660" width="1.6" height="33" fill="#fff"/>
<rect x="1023.8" y="660" width="1.6" height="33" fill="#fff"/>
<rect x="975" y="663.1" width="59.5" height="1.2" fill="#fff"/>
<rect x="975" y="666.7" width="59.5" height="1.2" fill="#fff"/>
<rect x="975" y="670.4" width="59.5" height="1.2" fill="#fff"/>
<rect x="975" y="674.1" width="59.5" height="1.2" fill="#fff"/>
<rect x="975" y="677.7" width="59.5" height="1.2" fill="#fff"/>
<rect x="975" y="681.4" width="59.5" height="1.2" fill="#fff"/>
<rect x="975" y="685.1" width="59.5" height="1.2" fill="#fff"/>
<rect x="975" y="688.7" width="59.5" height="1.2" fill="#fff"/>
<circle cx="941.25" cy="776.25" r="12.6" fill="none" stroke="#000" stroke-width="12.8"/>
<rect x="991.25" y="773.6" width="40" height="5.3" fill="#000"/>
<circle cx="950" cy="1070.75" r="18.75" fill="#000"/>
<g fill="#9a9a9a"><circle cx="943.7" cy="1059.0" r="0.9"/><circle cx="947.9" cy="1059.0" r="0.9"/><circle cx="952.1" cy="1059.0" r="0.9"/><circle cx="956.3" cy="1059.0" r="0.9"/><circle cx="937.4" cy="1063.0" r="0.9"/><circle cx="941.6" cy="1063.0" r="0.9"/><circle cx="945.8" cy="1063.0" r="0.9"/><circle cx="950.0" cy="1063.0" r="0.9"/><circle cx="954.2" cy="1063.0" r="0.9"/><circle cx="958.4" cy="1063.0" r="0.9"/><circle cx="962.6" cy="1063.0" r="0.9"/><circle cx="939.5" cy="1066.8" r="0.9"/><circle cx="943.7" cy="1066.8" r="0.9"/><circle cx="947.9" cy="1066.8" r="0.9"/><circle cx="952.1" cy="1066.8" r="0.9"/><circle cx="956.3" cy="1066.8" r="0.9"/><circle cx="960.5" cy="1066.8" r="0.9"/><circle cx="937.4" cy="1070.8" r="0.9"/><circle cx="941.6" cy="1070.8" r="0.9"/><circle cx="945.8" cy="1070.8" r="0.9"/><circle cx="950.0" cy="1070.8" r="0.9"/><circle cx="954.2" cy="1070.8" r="0.9"/><circle cx="958.4" cy="1070.8" r="0.9"/><circle cx="962.6" cy="1070.8" r="0.9"/><circle cx="939.5" cy="1074.7" r="0.9"/><circle cx="943.7" cy="1074.7" r="0.9"/><circle cx="947.9" cy="1074.7" r="0.9"/><circle cx="952.1" cy="1074.7" r="0.9"/><circle cx="956.3" cy="1074.7" r="0.9"/><circle cx="960.5" cy="1074.7" r="0.9"/><circle cx="937.4" cy="1078.5" r="0.9"/><circle cx="941.6" cy="1078.5" r="0.9"/><circle cx="945.8" cy="1078.5" r="0.9"/><circle cx="950.0" cy="1078.5" r="0.9"/><circle cx="954.2" cy="1078.5" r="0.9"/><circle cx="958.4" cy="1078.5" r="0.9"/><circle cx="962.6" cy="1078.5" r="0.9"/><circle cx="943.7" cy="1082.5" r="0.9"/><circle cx="947.9" cy="1082.5" r="0.9"/><circle cx="952.1" cy="1082.5" r="0.9"/><circle cx="956.3" cy="1082.5" r="0.9"/></g>
<rect x="984.5" y="1056.6" width="38.5" height="1.8" fill="#222"/>
<rect x="984.5" y="1060.3" width="38.5" height="1.8" fill="#222"/>
<rect x="984.5" y="1064.0" width="38.5" height="1.8" fill="#222"/>
<rect x="984.5" y="1067.7" width="38.5" height="1.8" fill="#222"/>
<rect x="984.5" y="1071.4" width="38.5" height="1.8" fill="#222"/>
<rect x="984.5" y="1075.1" width="38.5" height="1.8" fill="#222"/>
<rect x="984.5" y="1078.8" width="38.5" height="1.8" fill="#222"/>
<rect x="984.5" y="1082.5" width="38.5" height="1.8" fill="#222"/>
<rect x="984.5" y="1086.2" width="38.5" height="1.8" fill="#222"/>
<circle cx="949.5" cy="1139.5" r="16.5" fill="#000"/>
<ellipse cx="949.5" cy="1139.5" rx="15" ry="3.6" fill="#fff"/>
<g stroke="#222" stroke-width="2" fill="none"><path d="M986.25,1127.5 L1020,1116.25"/><path d="M987.5,1131.25 L1021.25,1126.25"/><path d="M986.25,1135.5 L1022.5,1135.5" stroke-width="3"/><path d="M987.5,1140 L1022.5,1143.75"/><path d="M988.75,1143.75 L1021.25,1153.75"/></g>
</svg>
</body></html>
